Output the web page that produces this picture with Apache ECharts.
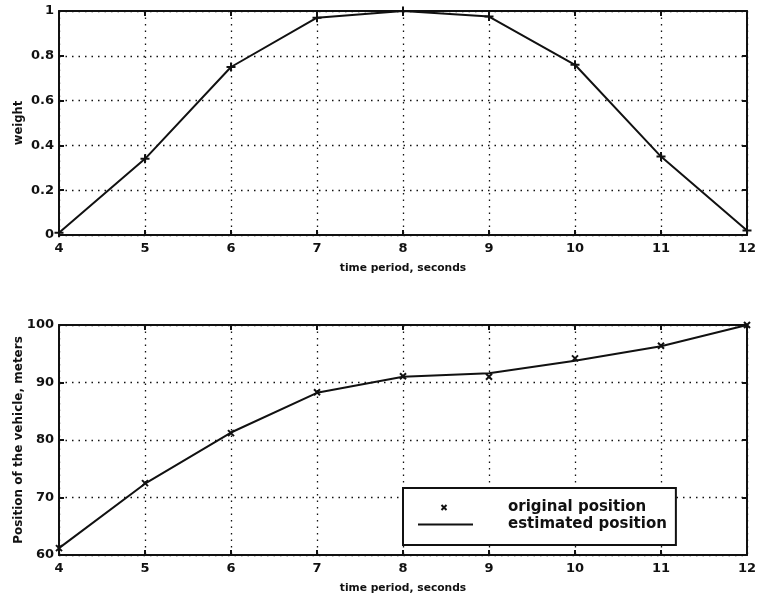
<!DOCTYPE html>
<html>
<head>
<meta charset="utf-8">
<script src="https://cdn.jsdelivr.net/npm/echarts@6/dist/echarts.min.js"></script>
<style>
  html, body { margin: 0; padding: 0; background: #fff; }
  #chart { width: 757px; height: 594px; }
</style>
</head>
<body>
<div id="chart"></div>
<script>
// Time instants (seconds)
const timeSeconds = [4, 5, 6, 7, 8, 9, 10, 11, 12];
// Weighting window over the period
const weightValues = [0.01, 0.34, 0.75, 0.97, 1.0, 0.975, 0.76, 0.35, 0.02];
// Vehicle position, meters
const originalPosition = [61.2, 72.5, 81.2, 88.3, 91.1, 91.0, 94.2, 96.4, 100];
const estimatedPosition = [61.2, 72.4, 81.3, 88.2, 91.0, 91.6, 93.8, 96.3, 100];

const FONT = '"DejaVu Sans", Verdana, sans-serif';
const INK = '#111';

const pairs = (xs, ys) => xs.map((x, i) => [x, ys[i]]);

const plusIcon = 'path://M5,0 L5,10 M0,5 L10,5';
const crossIcon = 'path://M0,0 L10,10 M10,0 L0,10';
// Legend icons padded with move-to points so they keep their place in the box
const legendCross = 'path://M0,0 M85,14 M23.5,4.5 L28.5,9.5 M28.5,4.5 L23.5,9.5';
const legendLine = 'path://M0,0 M85,14 M0,7 L55,7';

const gridDots = { color: INK, width: 1.3, type: [1.5, 5] };
const frameLine = { color: INK, width: 2 };
const innerTick = { show: true, inside: true, length: 5, lineStyle: { color: INK, width: 2 } };

function xAxisFor(gridIndex) {
  return [{
    type: 'value', gridIndex: gridIndex, min: 4, max: 12, interval: 1,
    position: 'bottom',
    name: 'time period, seconds', nameLocation: 'middle', nameGap: 28,
    nameMoveOverlap: false,
    nameTextStyle: { fontFamily: FONT, fontWeight: 'bold', fontSize: 10.7, color: INK },
    axisLine: { show: true, onZero: false, lineStyle: frameLine },
    axisTick: innerTick,
    axisLabel: { show: true, margin: 7, fontFamily: FONT, fontWeight: 'bold', fontSize: 13, color: INK },
    splitLine: { show: true, lineStyle: gridDots }
  }, {
    type: 'value', gridIndex: gridIndex, min: 4, max: 12, interval: 1,
    position: 'top',
    axisLine: { show: true, onZero: false, lineStyle: frameLine },
    axisTick: innerTick,
    axisLabel: { show: false },
    splitLine: { show: false }
  }];
}

function yAxisFor(gridIndex, min, max, interval, name, nameSize, nameGap, fmt) {
  return [{
    type: 'value', gridIndex: gridIndex, min: min, max: max, interval: interval,
    position: 'left',
    name: name, nameLocation: 'middle', nameGap: nameGap,
    nameMoveOverlap: false,
    nameTextStyle: { fontFamily: FONT, fontWeight: 'bold', fontSize: nameSize, color: INK },
    axisLine: { show: true, onZero: false, lineStyle: frameLine },
    axisTick: innerTick,
    axisLabel: { show: true, margin: 5, fontFamily: FONT, fontWeight: 'bold', fontSize: 13, color: INK, formatter: fmt },
    splitLine: { show: true, lineStyle: gridDots }
  }, {
    type: 'value', gridIndex: gridIndex, min: min, max: max, interval: interval,
    position: 'right',
    axisLine: { show: true, onZero: false, lineStyle: frameLine },
    axisTick: innerTick,
    axisLabel: { show: false },
    splitLine: { show: false }
  }];
}

const chart = echarts.init(document.getElementById('chart'), null, { renderer: 'canvas' });

chart.setOption({
  backgroundColor: '#fff',
  animation: false,
  grid: [
    { left: 59, right: 10, top: 11, height: 224, outerBoundsMode: 'none', containLabel: false },
    { left: 59, right: 10, top: 325, height: 230, outerBoundsMode: 'none', containLabel: false }
  ],
  xAxis: [].concat(xAxisFor(0), xAxisFor(1)),
  yAxis: [].concat(
    yAxisFor(0, 0, 1, 0.2, 'weight', 11.5, 34, v => (v === 0 || v === 1) ? String(v) : v.toFixed(1)),
    yAxisFor(1, 60, 100, 10, 'Position of the vehicle, meters', 12, 34, v => String(v))
  ),
  legend: {
    left: 403, top: 488,
    orient: 'vertical',
    data: [
      { name: 'original position', icon: legendCross,
        itemStyle: { color: 'transparent', borderColor: INK, borderWidth: 2 } },
      { name: 'estimated position', icon: legendLine,
        itemStyle: { color: 'transparent', borderColor: INK, borderWidth: 2 } }
    ],
    itemWidth: 85, itemHeight: 14, itemGap: 0,
    padding: [11, 9, 12, 14],
    backgroundColor: '#fff',
    borderColor: INK, borderWidth: 2, borderRadius: 0,
    textStyle: { fontFamily: FONT, fontWeight: 'bold', fontSize: 15, color: INK, lineHeight: 17 },
    selectedMode: false
  },
  series: [
    {
      name: 'weight', type: 'line', xAxisIndex: 0, yAxisIndex: 0,
      data: pairs(timeSeconds, weightValues),
      symbol: plusIcon, symbolSize: 9, showSymbol: true,
      lineStyle: { color: INK, width: 2 },
      itemStyle: { color: 'transparent', borderColor: INK, borderWidth: 2 },
      z: 5
    },
    {
      name: 'original position', type: 'line', xAxisIndex: 2, yAxisIndex: 2,
      data: pairs(timeSeconds, originalPosition),
      symbol: crossIcon, symbolSize: 6,
      lineStyle: { width: 0, opacity: 0 },
      itemStyle: { color: 'transparent', borderColor: INK, borderWidth: 2 },
      z: 6
    },
    {
      name: 'estimated position', type: 'line', xAxisIndex: 2, yAxisIndex: 2,
      data: pairs(timeSeconds, estimatedPosition),
      symbol: 'none',
      lineStyle: { color: INK, width: 2 },
      itemStyle: { color: INK },
      z: 5
    }
  ]
});
</script>
</body>
</html>
